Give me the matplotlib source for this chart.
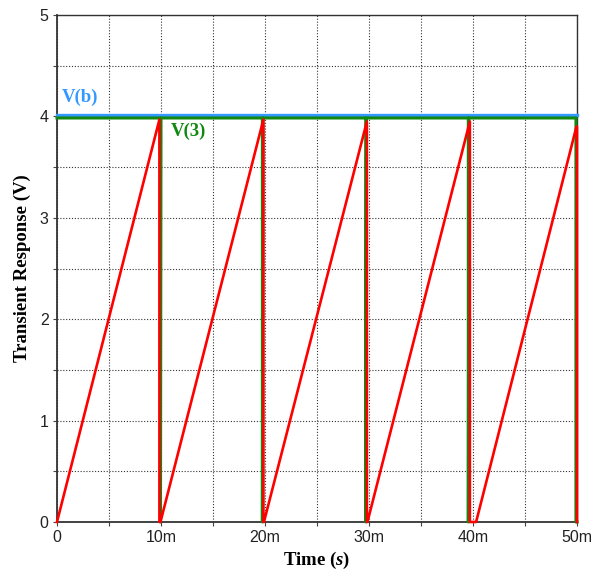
import numpy as np
import matplotlib.pyplot as plt
from matplotlib.ticker import MultipleLocator

plt.rcParams['mathtext.fontset'] = 'custom'
plt.rcParams['mathtext.it'] = 'Liberation Serif:italic:bold'

# transient sweep, time in ms
t_red = [0, 9.85, 9.85, 9.95, 19.85, 19.85, 19.9, 29.8, 29.8, 29.85, 39.7, 39.7, 40.3, 49.95, 50.0, 50.0]
v_red = [0, 3.97, 0, 0, 3.97, 0, 0, 3.95, 0, 0, 3.95, 0, 0, 3.9, 3.9, 0]

t_green = [0, 9.95, 9.95, 10.0, 19.75, 19.75, 19.8, 29.7, 29.7, 29.75, 39.55, 39.55, 39.6, 49.9, 49.9, 50.0]
v_green = [3.985, 3.985, 0, 3.985, 3.985, 0, 3.985, 3.985, 0, 3.985, 3.985, 0, 3.985, 3.985, 0, 0]

t_blue = [0, 50]
v_blue = [4.015, 4.015]

xticks = [0, 10, 20, 30, 40, 50]
xticklabels = ['0', '10m', '20m', '30m', '40m', '50m']
yticks = [0, 1, 2, 3, 4, 5]

fig = plt.figure(figsize=(5.96, 5.76), dpi=100)
ax = fig.add_axes([0.0956, 0.0938, 0.8725, 0.880])

ax.plot(t_blue, v_blue, color='#3399ff', lw=2.4, clip_on=False, zorder=3)
ax.plot(t_green, v_green, color='#118811', lw=2.2, clip_on=False, zorder=4)
ax.plot(t_red, v_red, color='#ff0000', lw=1.9, clip_on=False, zorder=5)

ax.set_xlim(0, 50)
ax.set_ylim(0, 5)
ax.set_xticks(xticks)
ax.set_xticklabels(xticklabels)
ax.set_yticks(yticks)
ax.xaxis.set_minor_locator(MultipleLocator(5))
ax.yaxis.set_minor_locator(MultipleLocator(0.5))
ax.grid(which='both', color='#333333', linestyle=(0, (1, 1.6)), lw=0.8)
ax.set_axisbelow(True)
ax.tick_params(which='both', direction='out', length=3, width=0.8, colors='#444444')
ax.tick_params(which='major', labelsize=11.5, labelcolor='#222222', pad=3)
for lab in ax.get_xticklabels() + ax.get_yticklabels():
    lab.set_family('Liberation Sans')

for s in ax.spines.values():
    s.set_color('#333333')
    s.set_linewidth(1.0)
ax.spines['left'].set_linewidth(1.3)
ax.spines['bottom'].set_linewidth(1.3)

ax.set_ylabel('Transient Response (V)', family='Liberation Serif', fontweight='bold',
              fontsize=13.5, labelpad=6)
ax.set_xlabel(r'Time ($s$)', family='Liberation Serif', fontweight='bold',
              fontsize=13.5, labelpad=3)

ax.text(0.5, 4.1, 'V(b)', color='#3399ff', family='Liberation Serif', fontweight='bold',
        fontsize=13.5, va='bottom')
ax.text(10.9, 3.85, 'V(3)', color='#118811', family='Liberation Serif', fontweight='bold',
        fontsize=13.5, va='center')

fig.savefig('out.png', dpi=100)
